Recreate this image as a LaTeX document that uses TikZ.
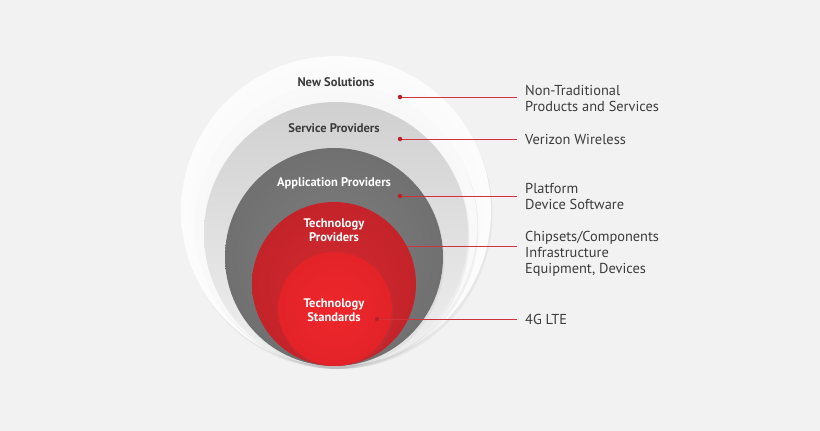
\documentclass[tikz,border=0pt]{standalone}
\usepackage{fontspec}
\setmainfont{PT Sans}
\usetikzlibrary{positioning,shadows}

\definecolor{bgGray}{HTML}{F2F2F2}
\definecolor{outerIn}{HTML}{F3F3F3}
\definecolor{outerEdge}{HTML}{FCFCFC}
\definecolor{shellIn}{HTML}{F0F0F0}
\definecolor{shellOut}{HTML}{F9F9F9}
\definecolor{serviceTop}{HTML}{D0D0D0}
\definecolor{serviceBot}{HTML}{F0F0F0}
\definecolor{appIn}{HTML}{7E7E7E}
\definecolor{appOut}{HTML}{707070}
\definecolor{techIn}{HTML}{D02A30}
\definecolor{techOut}{HTML}{C4232A}
\definecolor{stdIn}{HTML}{EE272C}
\definecolor{stdOut}{HTML}{E22328}
\definecolor{labelGray}{HTML}{3C3C3C}
\definecolor{redLine}{HTML}{D2323C}
\definecolor{dotRed}{HTML}{B8202A}

\begin{document}
\begin{tikzpicture}[x=1pt,y=-1pt]
\tikzstyle{disc} = [circle, inner sep=0pt, drop shadow={shadow xshift=1.5pt, shadow yshift=-3pt, opacity=0.09}]
\tikzstyle{ringlabel} = [font=\fontsize{12.5}{14}\selectfont\bfseries, align=center, inner sep=0pt]
\tikzstyle{sidelabel} = [font=\fontsize{14.4}{16}\selectfont, text=labelGray, align=left, anchor=west, inner sep=8pt]
\tikzstyle{line} = [draw, redLine, line width=0.8pt]
\tikzstyle{dot} = [circle, fill=dotRed, inner sep=0pt, minimum size=4.5pt]

% background
\fill [bgGray] (0,0) rectangle (820,431);

% nested discs, all touching at the bottom
\node [disc, minimum size=310pt, inner color=outerIn, outer color=outerEdge] (newSol) at (336,211) {};
\node [disc, minimum size=282pt, inner color=shellIn, outer color=shellOut] (shell) at (336,225) {};
\node [disc, minimum size=264pt, top color=serviceTop, bottom color=serviceBot] (service) at (336,234) {};
\node [disc, minimum size=218pt, inner color=appIn, outer color=appOut] (app) at (334,257) {};
\node [disc, minimum size=164pt, inner color=techIn, outer color=techOut] (techProv) at (334,284) {};
\node [disc, minimum size=114pt, inner color=stdIn, outer color=stdOut] (techStd) at (335,309) {};

% texts inside the discs
\node [ringlabel, text=labelGray] (newSolText) at (336,82) {New Solutions};
\node [ringlabel, text=labelGray] (serviceText) at (334,128) {Service Providers};
\node [ringlabel, text=white] (appText) at (334,183) {Application Providers};
\node [ringlabel, text=white] (techProvText) at (334,230) {Technology\\Providers};
\node [ringlabel, text=white] (techStdText) at (334,310) {Technology\\Standards};

% labels on the right
\node [sidelabel] (nonTrad) at (517,98) {Non-Traditional\\Products and Services};
\node [sidelabel] (verizon) at (517,139) {Verizon Wireless};
\node [sidelabel] (platform) at (517,196) {Platform\\Device Software};
\node [sidelabel] (chipsets) at (517,254) {Chipsets/Components\\Infrastructure\\Equipment, Devices};
\node [sidelabel] (lte) at (517,319) {4G LTE};

% dots
\node [dot] (dotNew) at (400,97) {};
\node [dot] (dotService) at (400,139) {};
\node [dot] (dotApp) at (400,196) {};
\node [dot] (dotStd) at (377,319) {};

% Connections
\draw [line] (dotNew) -- (nonTrad.west |- dotNew);
\draw [line] (dotService) -- (verizon.west |- dotService);
\draw [line] (dotApp) -- (platform.west |- dotApp);
\draw [line] (techProv.27) -- (chipsets.west |- techProv.27);
\draw [line] (dotStd) -- (lte.west |- dotStd);

\end{tikzpicture}
\end{document}
